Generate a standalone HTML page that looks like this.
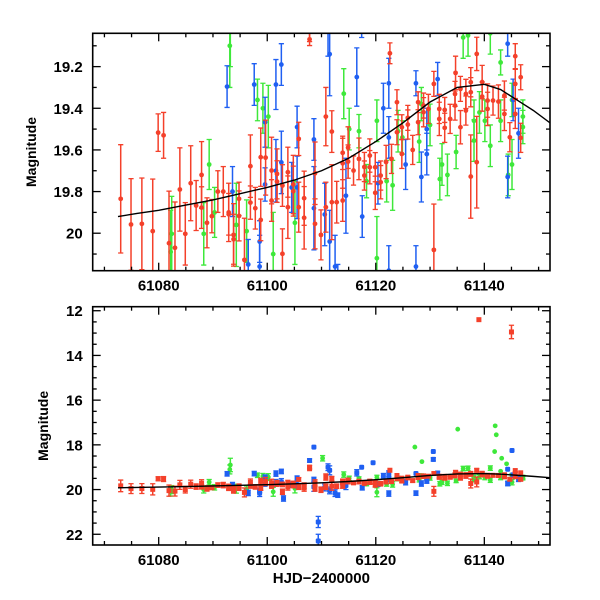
<!DOCTYPE html>
<html><head><meta charset="utf-8">
<style>
html,body{margin:0;padding:0;background:#fff;width:600px;height:600px;overflow:hidden;}
svg{display:block;font-family:"Liberation Sans",Arial,sans-serif;}
</style></head>
<body>
<svg id="chart" width="600" height="600" viewBox="0 0 600 600" xmlns="http://www.w3.org/2000/svg"></svg>
<script>
// ---- data ----
const redT=[73.0,74.9,76.9,78.9,79.9,80.9,81.9,83.0,83.9,84.9,85.9,86.9,87.9,87.9,88.9,89.8,90.9,91.9,92.9,92.9,93.8,93.8,94.8,94.8,95.8,96.9,96.9,97.8,98.8,98.8,99.7,100.8,100.8,101.8,101.8,102.8,102.8,103.8,103.8,104.8,104.8,105.8,105.8,106.8,106.8,107.8,108.8,108.8,109.9,110.8,110.8,111.9,111.9,112.8,113.9,113.9,113.9,114.9,114.9,115.9,116.9,117.9,117.9,118.9,118.9,119.9,119.9,120.9,120.9,121.9,122.6,122.9,123.9,123.9,124.8,124.8,125.9,125.9,126.8,127.8,127.8,128.8,128.8,129.7,130.7,130.7,131.7,131.7,132.7,132.7,133.7,134.6,134.6,134.7,135.6,135.6,136.6,136.6,137.5,137.5,137.5,138.6,138.6,139.6,139.6,140.6,140.6,141.6,142.6,143.7,143.7,144.7,145.7,145.7,145.7,146.7,146.7,139.0,145.0,107.8];
const redMag=[19.835,19.958,19.955,19.99,19.517,19.53,20.048,20.07,19.79,20.003,19.76,19.867,19.72,19.877,19.95,19.918,19.8,19.8,19.9,19.909,20.008,20.029,19.835,19.917,20.128,19.678,19.853,19.88,19.635,19.936,19.637,19.843,19.699,19.752,19.715,19.771,20.099,19.875,19.707,19.766,19.798,19.547,19.875,19.832,19.926,19.069,19.712,19.955,20.008,19.44,19.875,19.851,19.512,19.851,19.614,19.843,19.664,19.589,19.656,19.699,19.643,19.682,19.723,19.627,19.683,19.683,19.806,19.723,19.755,19.658,19.136,19.643,19.371,19.515,19.619,19.491,19.478,19.446,19.6,19.371,19.467,19.419,19.387,19.403,19.283,20.08,19.403,19.451,19.408,19.494,19.451,19.387,19.331,19.23,19.491,19.307,19.331,19.411,19.275,19.728,19.323,19.659,19.139,19.344,19.274,19.403,19.363,19.363,19.368,19.427,19.339,19.539,19.427,19.15,19.283,19.542,19.251,12.4,12.95,19.0];
const redErr=[0.26,0.22,0.22,0.25,0.09,0.11,0.25,0.22,0.2,0.15,0.18,0.12,0.16,0.1,0.12,0.08,0.1,0.12,0.14,0.1,0.15,0.12,0.08,0.12,0.2,0.15,0.08,0.1,0.14,0.1,0.18,0.1,0.16,0.1,0.12,0.1,0.12,0.15,0.12,0.14,0.12,0.08,0.12,0.13,0.15,0.03,0.15,0.12,0.12,0.14,0.12,0.18,0.1,0.1,0.08,0.1,0.12,0.1,0.08,0.07,0.1,0.07,0.07,0.08,0.08,0.07,0.08,0.07,0.08,0.08,0.05,0.07,0.06,0.06,0.07,0.06,0.07,0.06,0.07,0.05,0.06,0.07,0.06,0.07,0.06,0.22,0.07,0.08,0.06,0.07,0.07,0.07,0.06,0.08,0.08,0.06,0.07,0.07,0.07,0.2,0.07,0.22,0.08,0.07,0.08,0.08,0.08,0.07,0.08,0.08,0.07,0.07,0.07,0.06,0.07,0.07,0.06,0.03,0.3,0.08];
const greenT=[82.2,82.4,88.3,89.3,90.3,93.1,94.3,96.2,98.2,99.2,100.2,101.1,105.1,114.1,115.1,120.2,120.2,123.1,124.1,128.0,130.0,131.8,133.2,132.2,136.1,137.0,138.1,138.1,139.1,140.1,141.1,143.0,143.0,144.4,145.1,145.1,147.1,147.1,141.1,134.8,128.4,124.9,122.0,118.3,116.9,135.1,142.0,142.2,141.9,127.2,128.5,93.2,110.2,143.2,144.1];
const greenMag=[20.09,20.003,20.003,19.67,19.9,19.1,19.96,19.99,19.36,19.4,19.44,20.1,19.95,19.33,19.5,20.12,19.46,19.77,19.51,19.56,19.48,19.74,19.72,19.67,19.06,19.05,19.555,19.46,19.42,19.46,19.04,19.18,19.46,19.72,19.36,19.67,19.44,19.49,19.58,19.61,19.38,19.54,19.75,19.75,19.51,17.3,17.15,17.55,18.3,18.1,18.75,18.9,18.6,18.6,18.85];
const greenErr=[0.2,0.18,0.15,0.12,0.12,0.2,0.2,0.15,0.1,0.12,0.15,0.2,0.2,0.12,0.1,0.2,0.1,0.12,0.1,0.1,0.1,0.1,0.1,0.1,0.1,0.1,0.1,0.1,0.1,0.1,0.1,0.06,0.1,0.1,0.08,0.12,0.08,0.08,0.1,0.08,0.08,0.08,0.1,0.08,0.08,0.03,0.03,0.03,0.04,0.03,0.03,0.3,0.12,0.04,0.03];
const blueT=[92.6,93.6,97.6,98.6,98.6,99.6,99.6,101.6,102.6,101.6,102.6,104.5,105.5,105.5,108.6,110.6,111.5,111.5,112.5,114.5,116.5,117.5,121.4,122.4,122.4,122.4,125.5,127.4,127.4,128.4,129.4,131.4,129.4,144.3,144.3,146.3,145.3,120.4,108.6,108.6,107.8,130.6,130.6,119.5,117.4,145.1,111.2,109.4,109.4,103.0,96.5,113.0];
const blueMag=[19.296,19.8,19.286,20.04,20.16,19.467,19.766,19.286,19.19,19.7,19.66,19.78,19.49,19.78,19.88,19.91,19.14,20.04,20.16,19.82,19.25,19.92,19.4,19.28,19.54,20.18,19.67,19.28,20.16,19.73,19.62,19.26,19.5,19.09,19.73,19.52,19.36,19.76,19.55,18.1,18.7,18.3,18.65,18.8,19.0,18.25,19.0,21.45,22.3,20.4,20.15,20.25];
const blueErr=[0.1,0.12,0.1,0.1,0.15,0.12,0.08,0.12,0.1,0.15,0.15,0.12,0.1,0.15,0.2,0.15,0.2,0.15,0.15,0.18,0.14,0.1,0.12,0.12,0.1,0.12,0.12,0.06,0.1,0.12,0.1,0.08,0.1,0.06,0.1,0.12,0.1,0.1,0.1,0.05,0.08,0.06,0.08,0.06,0.06,0.05,0.15,0.25,0.3,0.12,0.12,0.1];
const modelT=[61072.5,61076,61080,61085,61090,61095,61100,61105,61110,61115,61120,61125,61130,61135,61140,61143,61146,61149,61152.1];
const modelMag=[19.92,19.905,19.89,19.865,19.84,19.81,19.78,19.745,19.70,19.64,19.56,19.47,19.37,19.30,19.285,19.31,19.36,19.41,19.47];
const xTicks=[61080,61100,61120,61140];
const topYTicks=[19.2,19.4,19.6,19.8,20];
const topYLabels=["19.2","19.4","19.6","19.8","20"];
const botYTicks=[12,14,16,18,20,22];
const botYLabels=["12","14","16","18","20","22"];
const T0=61000;

const NS="http://www.w3.org/2000/svg";
const svg=document.getElementById('chart');
function mk(tag,attrs,parent){const e=document.createElementNS(NS,tag);for(const k in attrs)e.setAttribute(k,attrs[k]);(parent||svg).appendChild(e);return e;}

const X0=92.7,X1=550,XD0=61067.84,XD1=61152.1;
function xs(t){return X0+(t-XD0)/(XD1-XD0)*(X1-X0);}
const panels=[
 {name:'top',y0:33.3,y1:270.7,m0:19.04,m1:20.18,ticks:topYTicks,labels:topYLabels,minor:0.1,titleX:36,bottom:false,square:false},
 {name:'bottom',y0:306.7,y1:545,m0:11.82,m1:22.48,ticks:botYTicks,labels:botYLabels,minor:0.5,titleX:48,bottom:true,square:true}
];
const series=[
 {name:'green',T:greenT,M:greenMag,E:greenErr,color:'#3ee83a'},
 {name:'blue',T:blueT,M:blueMag,E:blueErr,color:'#1f5ff2'},
 {name:'red',T:redT,M:redMag,E:redErr,color:'#f4402a'}
];
panels.forEach((p,pi)=>{
  const ys=m=>p.y0+(m-p.m0)/(p.m1-p.m0)*(p.y1-p.y0);
  const g=mk('g',{});
  
  
  const cid='clip'+pi;
  const cp=mk('clipPath',{id:cid},g);
  mk('rect',{x:X0,y:p.y0,width:X1-X0,height:p.y1-p.y0},cp);
  const plot=mk('g',{'clip-path':'url(#'+cid+')'},g);
  
  
  series.forEach(s=>{
    const sg=mk('g',{},plot);
    
    
    for(let i=0;i<s.T.length;i++){
      const x=xs(T0+s.T[i]),y=ys(s.M[i]);
      const ya=ys(s.M[i]-s.E[i]),yb=ys(s.M[i]+s.E[i]);
      if(Math.abs(yb-ya)>3){
        mk('line',{x1:x,y1:ya,x2:x,y2:yb,stroke:s.color,'stroke-width':1.5},sg);
        mk('line',{x1:x-2.6,y1:ya,x2:x+2.6,y2:ya,stroke:s.color,'stroke-width':1.3},sg);
        mk('line',{x1:x-2.6,y1:yb,x2:x+2.6,y2:yb,stroke:s.color,'stroke-width':1.3},sg);
      }
      let pt;
      if(p.square&&s.name!=='green') pt=mk('rect',{x:x-2.5,y:y-2.5,width:5,height:5,rx:s.name==='blue'?1.2:0,fill:s.color},sg);
      else pt=mk('circle',{cx:x,cy:y,r:2.4,fill:s.color},sg);
      
      
    }
  });
  let d='';
  modelT.forEach((t,i)=>{d+=(i?'L':'M')+xs(t).toFixed(2)+','+ys(modelMag[i]).toFixed(2);});
  const ml=mk('path',{d:d,fill:'none',stroke:'#000','stroke-width':1.4},plot);
  
  
  const fr=mk('rect',{x:X0,y:p.y0,width:X1-X0,height:p.y1-p.y0,fill:'none',stroke:'#000','stroke-width':1.6},g);
  
  
  for(let t=61070;t<=61150;t+=5){
    const x=xs(t),L=(t%20===0)?8:4;
    mk('line',{x1:x,y1:p.y1,x2:x,y2:p.y1-L,stroke:'#000','stroke-width':1.3},g);
    mk('line',{x1:x,y1:p.y0,x2:x,y2:p.y0+L,stroke:'#000','stroke-width':1.3},g);
  }
  xTicks.forEach(t=>{
    const tx=mk('text',{x:xs(t),y:p.y1+20,'text-anchor':'middle','font-size':15,'font-weight':'bold'},g);
    tx.textContent=t;
    
    
  });
  const st=p.minor;
  for(let m=Math.ceil(p.m0/st)*st;m<=p.m1+1e-9;m+=st){
    const mm=Math.round(m*100)/100;
    const major=p.ticks.some(v=>Math.abs(v-mm)<1e-6);
    const y=ys(mm),L=major?8:4;
    mk('line',{x1:X0,y1:y,x2:X0+L,y2:y,stroke:'#000','stroke-width':1.3},g);
    mk('line',{x1:X1,y1:y,x2:X1-L,y2:y,stroke:'#000','stroke-width':1.3},g);
  }
  p.ticks.forEach((v,i)=>{
    const tx=mk('text',{x:X0-10,y:ys(v)+5.5,'text-anchor':'end','font-size':15,'font-weight':'bold'},g);
    tx.textContent=p.labels[i];
    
    
  });
  const cy=(p.y0+p.y1)/2;
  const yt=mk('text',{x:p.titleX,y:cy,'text-anchor':'middle','font-size':14,'font-weight':'bold',transform:'rotate(-90 '+p.titleX+' '+cy+')'},g);
  yt.textContent='Magnitude';
  
  
});
const xt=mk('text',{x:(X0+X1)/2,y:583,'text-anchor':'middle','font-size':15,'font-weight':'bold'});
xt.textContent='HJD\u22122400000';


</script>
</body></html>
